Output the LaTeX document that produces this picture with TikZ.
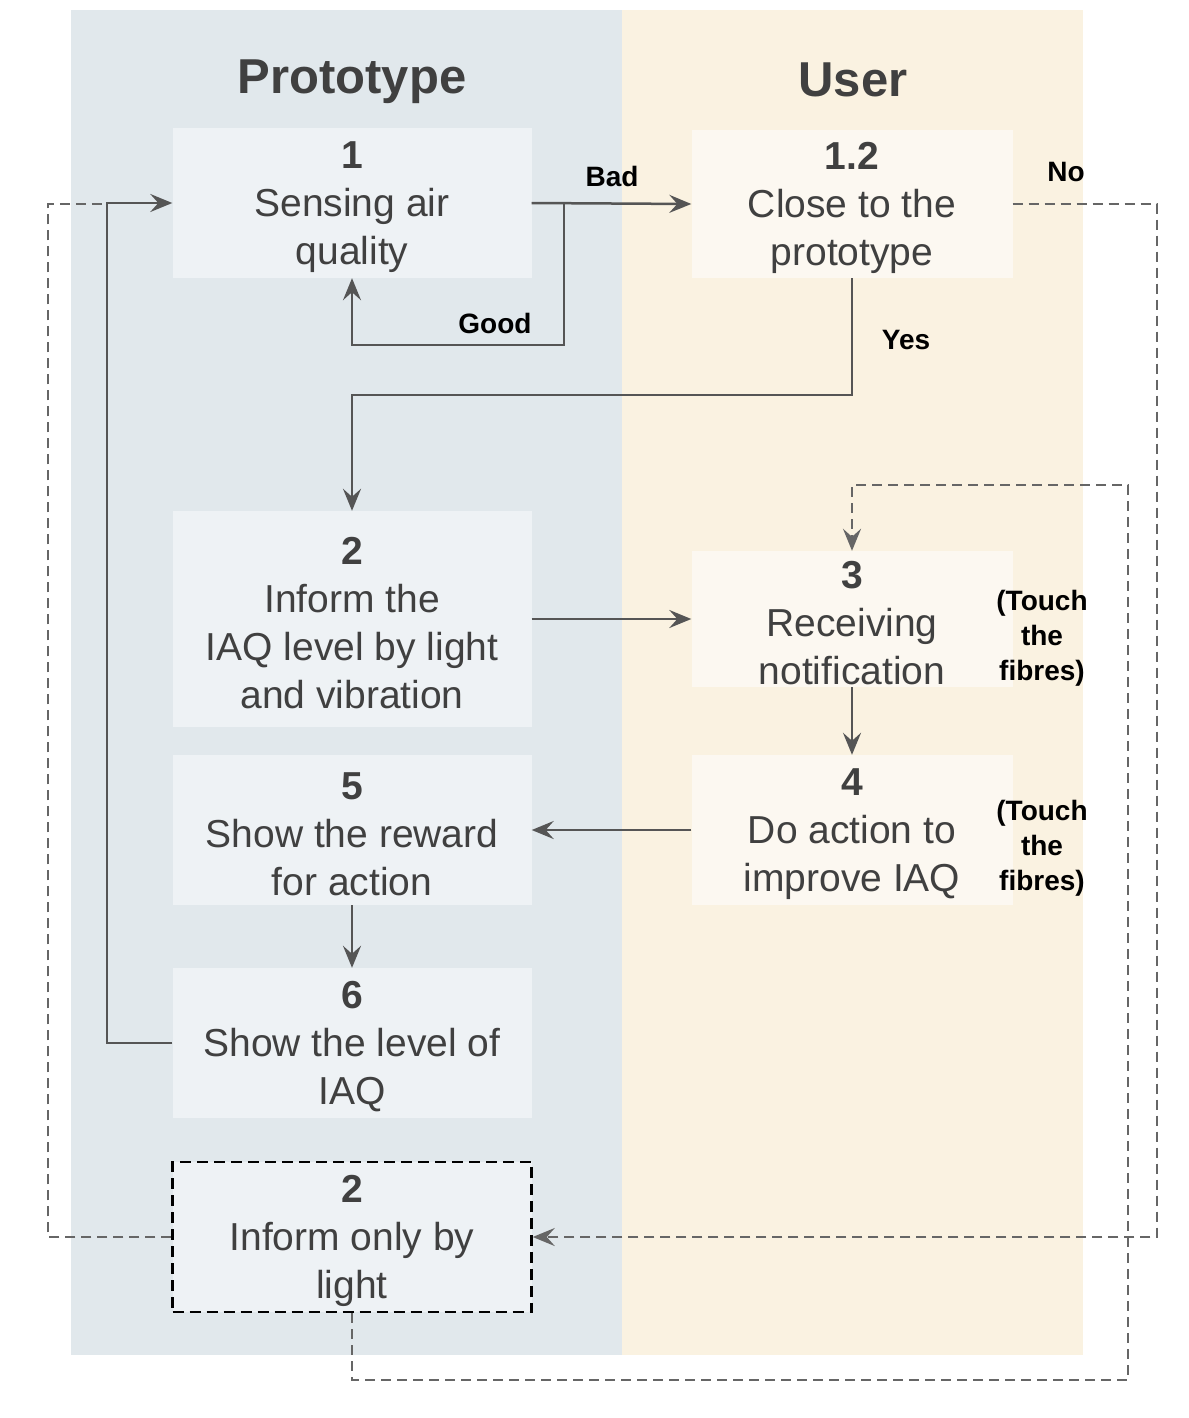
\documentclass[tikz,border=0pt]{standalone}
\usepackage{fontspec}
\setmainfont{Liberation Sans}
\usetikzlibrary{arrows.meta, positioning, calc}

\definecolor{protolane}{HTML}{E1E8EC}
\definecolor{protobox}{HTML}{EEF2F5}
\definecolor{userlane}{HTML}{FAF2E1}
\definecolor{userbox}{HTML}{FCF8F1}
\definecolor{textgray}{HTML}{404040}
\definecolor{linegray}{HTML}{555555}
\definecolor{dashgray}{HTML}{666666}

% step number on the first line of a box
\newcommand{\stepno}[1]{\rule{0pt}{35pt}{\bfseries #1}}

\begin{document}
\begin{tikzpicture}[x=1pt, y=-1pt,
    stepbox/.style={minimum width=359pt, minimum height=150pt, inner sep=0pt,
        align=center, text=textgray, font=\fontsize{39}{48}\selectfont},
    protostep/.style={stepbox, fill=protobox},
    userstep/.style={stepbox, fill=userbox, minimum width=321pt},
    lanetitle/.style={text=textgray, font=\fontsize{49}{54}\selectfont\bfseries},
    flowlabel/.style={align=center, font=\fontsize{28}{35}\selectfont\bfseries},
    flow/.style={draw=linegray, line width=2.5pt,
        -{Stealth[length=22pt, width=18pt, inset=8pt]}},
    dashline/.style={draw=dashgray, line width=2.5pt, dash pattern=on 10pt off 6pt},
    dashflow/.style={dashline, -{Stealth[length=22pt, width=18pt, inset=8pt]}}]

    \useasboundingbox (0,0) rectangle (1188,1418);

    % --- Swim lanes ---
    \fill[protolane] (71,10) rectangle (622,1355);
    \fill[userlane] (622,10) rectangle (1083,1355);
    \node[lanetitle] (protohead) at (352,82) {Prototype};
    \node[lanetitle] (userhead) at (853,80) {User};

    % --- Prototype steps ---
    \node[protostep] (sense) at (352,203) {\stepno{1}\\Sensing air\\quality};
    \node[protostep, minimum height=216pt] (inform) at (352,619)
        {\stepno{2}\\Inform the\\IAQ level by light\\and vibration};
    \node[protostep] (reward) at (352,830) {\stepno{5}\\Show the reward\\for action};
    \node[protostep] (level) at (352,1043) {\stepno{6}\\Show the level of\\IAQ};
    \node[protostep, draw=black, line width=2.5pt, dash pattern=on 11pt off 6pt]
        (lightonly) at (352,1237) {\stepno{2}\\Inform only by\\light};

    % --- User steps ---
    \node[userstep, minimum height=148pt] (close) at (852,204)
        {\stepno{1.2}\\Close to the\\prototype};
    \node[userstep, minimum height=136pt] (notify) at (852,619)
        {\stepno{3}\\Receiving\\notification};
    \node[userstep] (action) at (852,830) {\stepno{4}\\Do action to\\improve IAQ};
    \node[flowlabel] (touchA) at (1042,638) {(Touch\\the\\fibres)};
    \node[flowlabel] (touchB) at (1042,848) {(Touch\\the\\fibres)};

    % --- Turning points ---
    \coordinate (goodturn) at (564,345);
    \coordinate (yesturn) at (852,395);
    \coordinate (noturn) at (1157,204);
    \coordinate (backturn) at (107,1043);
    \coordinate (merge) at (107,204);
    \coordinate (dashleft) at (48,1237);
    \coordinate (dashlow) at (352,1380);
    \coordinate (dashup) at (1128,485);

    % --- Main flow ---
    \draw[flow] (sense.east) -- (close.west);
    \node[flowlabel] (bad) at (612,176) {Bad};
    \draw[flow] (sense.east) -| (goodturn) -| (sense.south);
    \node[flowlabel] (good) at (495,323) {Good};
    \draw[flow] (close.south) -- (yesturn) -| (inform.north);
    \node[flowlabel] (yes) at (906,340) {Yes};
    \draw[flow] (inform.east) -- (notify.west);
    \draw[flow] (notify.south) -- (action.north);
    \draw[flow] (action.west) -- (reward.east);
    \draw[flow] (reward.south) -- (level.north);
    \draw[flow] (level.west) -- (backturn) |- (sense.west);

    % --- Dashed flow ---
    \draw[dashflow] (close.east) -- (noturn) |- (lightonly.east);
    \node[flowlabel] (no) at (1066,172) {No};
    \draw[dashline] (lightonly.west) -- (dashleft) |- (merge);
    \draw[dashflow] (lightonly.south) -- (dashlow) -| (dashup) -| (notify.north);

\end{tikzpicture}
\end{document}
